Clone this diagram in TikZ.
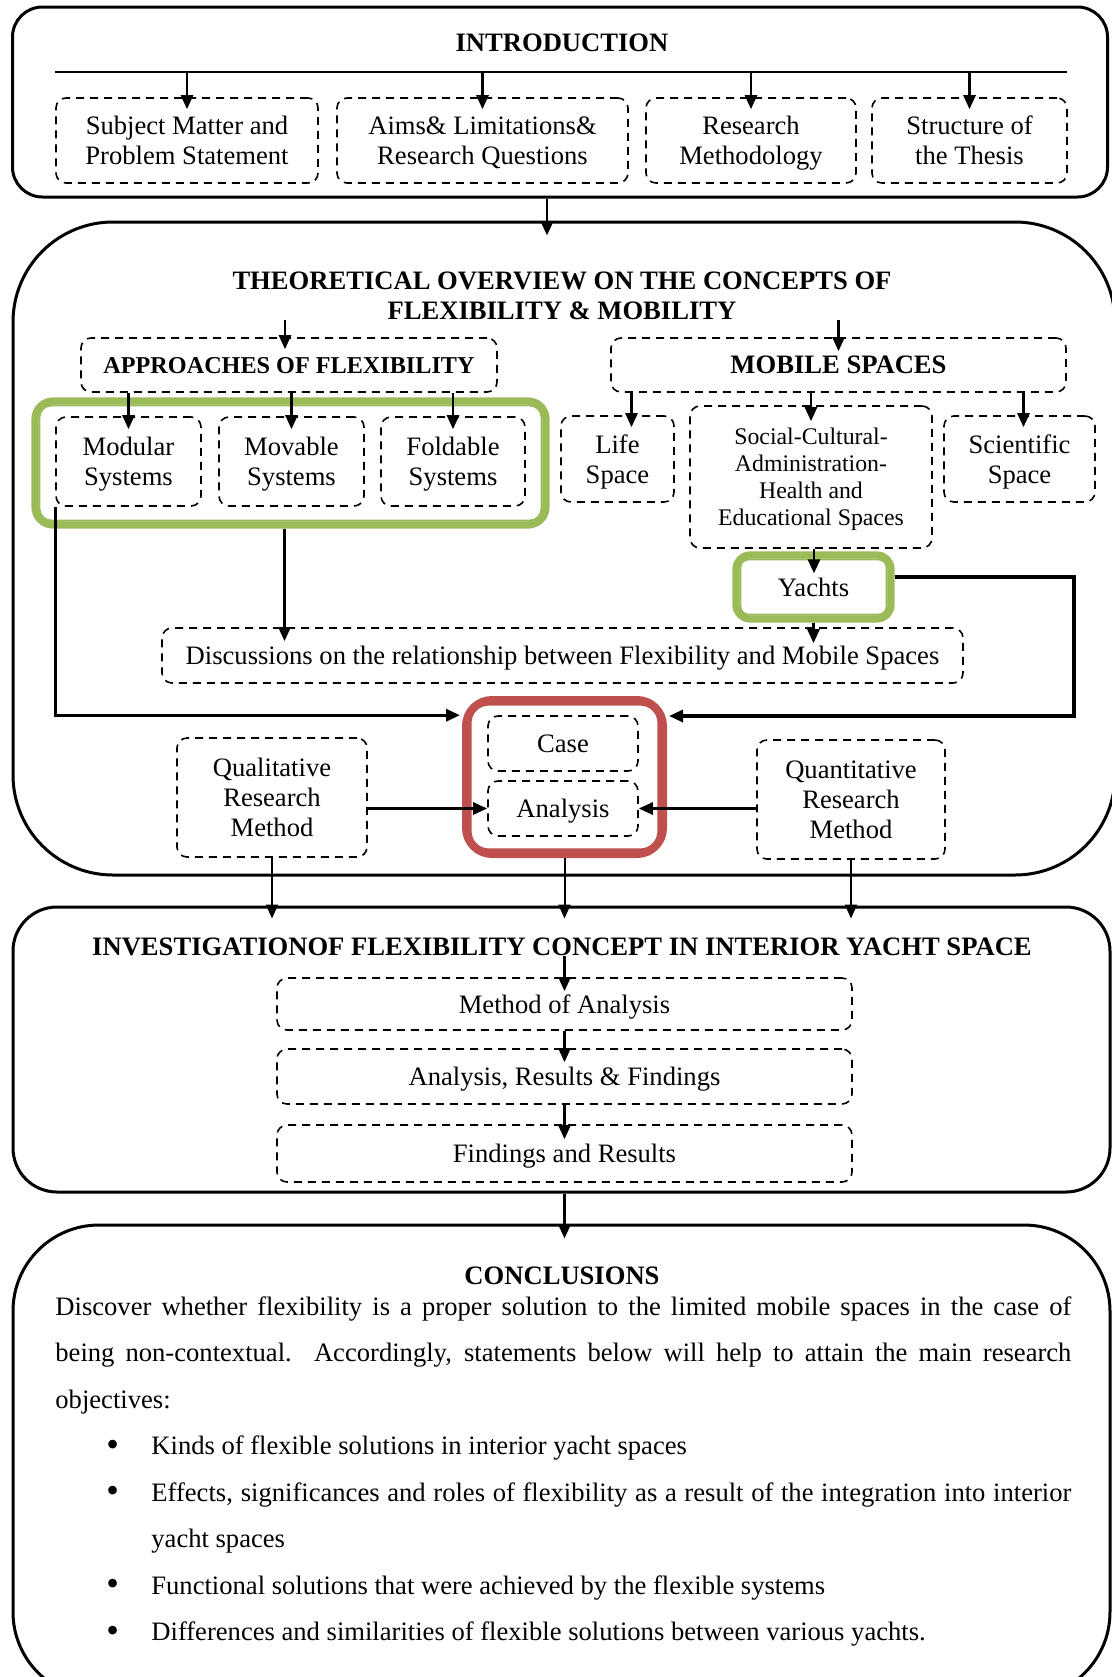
\documentclass[tikz,border=0pt]{standalone}
\usepackage{fontspec}
\setmainfont{Liberation Serif}
\usetikzlibrary{arrows.meta}
\definecolor{flexgreen}{HTML}{9BBB59}
\definecolor{caseRed}{HTML}{C0504D}
\newcommand{\concitem}[1]{\par\hangindent=48pt\hangafter=1\noindent\hspace*{25.5pt}\makebox[22.5pt][l]{\raisebox{-0.8pt}{\fontsize{18}{18}\selectfont\textbullet}}#1}
\begin{document}
\begin{tikzpicture}[x=0.5pt, y=-0.5pt, >={Triangle[length=7pt,width=6pt]},
    every node/.style={font=\fontsize{13.3}{15}\selectfont, align=center, inner sep=0pt, text depth=0pt},
    part/.style={draw, line width=1.5pt},
    ttl/.style={font=\fontsize{13.3}{15}\selectfont\bfseries},
    dbox/.style={draw, dash pattern=on 4pt off 3pt, line width=0.8pt, rounded corners=5pt},
    grnbox/.style={draw=flexgreen, line width=3.6pt, rounded corners=9pt},
    redbox/.style={draw=caseRed, line width=4pt, rounded corners=13pt},
    conn/.style={->, line width=1.3pt}]
    \useasboundingbox (0,0) rectangle (1112,1677);
    \clip (0,0) rectangle (1112,1677);

    % introduction
    \node[part, rounded corners=15pt, minimum width=547.5pt, minimum height=95pt] (intro) at (560,102) {};
    \node[ttl] (introttl) at (562,43) {INTRODUCTION};
    \draw[line width=0.6pt] (55,72) coordinate (bar) -- (1067,72);
    \node[dbox, minimum width=131pt, minimum height=42.5pt] (subj) at (187,140.5) {Subject Matter and\\Problem Statement};
    \node[dbox, minimum width=145.5pt, minimum height=42.5pt] (aims) at (482.5,140.5) {Aims\& Limitations\&\\Research Questions};
    \node[dbox, minimum width=105pt, minimum height=42.5pt] (rmeth) at (751,140.5) {Research\\Methodology};
    \node[dbox, minimum width=97.5pt, minimum height=42.5pt] (struct) at (969.5,140.5) {Structure of\\the Thesis};
    \foreach \n in {subj,aims,rmeth,struct}
        \draw[conn] (\n.north |- bar) -- ([yshift=-6pt]\n.north);

    % theoretical overview
    \node[part, rounded corners=50pt, minimum width=551pt, minimum height=326.5pt] (theory) at (564,548.5) {};
    \draw[conn] ([xshift=-6.5pt]intro.south) -- ([xshift=-6.5pt,yshift=-7.5pt]intro.south |- theory.north);
    \node[ttl] (theottl) at (562,296) {THEORETICAL OVERVIEW ON THE CONCEPTS OF\\FLEXIBILITY \& MOBILITY};
    \node[dbox, ttl, font=\fontsize{12.1}{15}\selectfont\bfseries, minimum width=208pt, minimum height=27pt] (appr) at (289,365) {APPROACHES OF FLEXIBILITY};
    \node[dbox, ttl, minimum width=227.5pt, minimum height=27pt] (mob) at (838.5,365) {MOBILE SPACES};
    \draw[conn] ([xshift=-2pt]appr.north |- theottl.south) -- ([xshift=-2pt,yshift=-6pt]appr.north);
    \draw[conn] (mob.north |- theottl.south) -- ([yshift=-7pt]mob.north);

    \node[grnbox, minimum width=255.5pt, minimum height=62pt] (flexgrp) at (290.5,463) {};
    \draw[flexgreen, line width=1pt, rounded corners=6pt] ([xshift=4pt,yshift=-4pt]flexgrp.north west) rectangle ([xshift=-4pt,yshift=4pt]flexgrp.south east);
    \node[dbox, minimum width=72.5pt, minimum height=44.5pt] (modular) at (128.5,461.5) {Modular\\Systems};
    \node[dbox, minimum width=72.5pt, minimum height=44.5pt] (movable) at (291.5,461.5) {Movable\\Systems};
    \node[dbox, minimum width=72pt, minimum height=44.5pt] (foldable) at (453,461.5) {Foldable\\Systems};
    \foreach \n in {modular,movable,foldable}
        \draw[conn] (\n.north |- appr.south) -- ([yshift=-6.5pt]\n.north);

    \node[dbox, minimum width=56.5pt, minimum height=43pt] (life) at (617.5,459) {Life\\Space};
    \node[dbox, font=\fontsize{11.9}{13.5}\selectfont, minimum width=121pt, minimum height=71pt] (social) at (811,477) {Social-Cultural-\\Administration-\\Health and\\Educational Spaces};
    \node[dbox, minimum width=75.5pt, minimum height=43pt] (sci) at (1019.5,459) {Scientific\\Space};
    \draw[conn] ([xshift=7pt]life.north |- mob.south) -- ([xshift=7pt,yshift=-6pt]life.north);
    \draw[conn] (social.north |- mob.south) -- ([yshift=-8pt]social.north);
    \draw[conn] ([xshift=2pt]sci.north |- mob.south) -- ([xshift=2pt,yshift=-6pt]sci.north);

    \node[grnbox, rounded corners=7pt, minimum width=77.5pt, minimum height=32pt] (yachts) at (813.5,587) {Yachts};
    \draw[flexgreen, line width=1pt, rounded corners=4pt] ([xshift=4pt,yshift=-4pt]yachts.north west) rectangle ([xshift=-4pt,yshift=4pt]yachts.south east);
    \draw[conn] ([xshift=1.5pt]social.south) -- ([xshift=1.5pt,yshift=-11pt]social.south |- yachts.north);

    \node[dbox, minimum width=400.5pt, minimum height=27.5pt] (disc) at (562.5,655.5) {Discussions on the relationship between Flexibility and Mobile Spaces};
    \draw[conn] ([xshift=-3pt]flexgrp.south) -- ([xshift=-3pt,yshift=-7pt]flexgrp.south |- disc.north);
    \draw[conn] (yachts.south) -- ([yshift=-8pt]yachts.south |- disc.north);

    % case analysis
    \node[redbox, minimum width=98.5pt, minimum height=77pt] (casegrp) at (564.5,777) {};
    \draw[caseRed, line width=1pt, rounded corners=9pt] ([xshift=4.3pt,yshift=-4.3pt]casegrp.north west) rectangle ([xshift=-4.3pt,yshift=4.3pt]casegrp.south east);
    \node[dbox, minimum width=75pt, minimum height=27.5pt] (case) at (563,743.5) {Case};
    \node[dbox, minimum width=75pt, minimum height=27.5pt] (analysis) at (563,808.5) {Analysis};
    \node[dbox, minimum width=95pt, minimum height=59.5pt] (qual) at (272,797.5) {Qualitative\\Research\\Method};
    \node[dbox, minimum width=94pt, minimum height=59.5pt] (quant) at (851,799.5) {Quantitative\\Research\\Method};
    \draw[conn] (qual.east |- analysis.west) -- (analysis.west);
    \draw[conn] (quant.west |- analysis.east) -- (analysis.east);
    \coordinate (rturn) at (1074,716);
    \draw[conn, line width=1.6pt] (modular.south west) -- (modular.south west |- case.north) -- ([xshift=-1pt]casegrp.west |- case.north);
    \draw[conn, line width=1.6pt] ([yshift=5pt]yachts.east) -| (rturn) -- ([xshift=1pt]casegrp.east |- rturn);

    % investigation
    \node[part, rounded corners=22pt, minimum width=548.5pt, minimum height=142.5pt] (invest) at (561.5,1049.5) {};
    \foreach \n in {qual,casegrp,quant}
        \draw[conn, line width=1pt] (\n.south) -- ([yshift=-6.5pt]\n.south |- invest.north);
    \node[ttl] (invttl) at (562,947) {INVESTIGATIONOF FLEXIBILITY CONCEPT IN INTERIOR YACHT SPACE};
    \node[dbox, minimum width=287.5pt, minimum height=26pt] (mofa) at (564.5,1004) {Method of Analysis};
    \node[dbox, minimum width=287.5pt, minimum height=27.5pt] (arf) at (564.5,1076.5) {Analysis, Results \& Findings};
    \node[dbox, minimum width=287.5pt, minimum height=28.5pt] (far) at (564.5,1153.5) {Findings and Results};
    \draw[conn] (mofa.north |- invttl.south) -- ([yshift=-7pt]mofa.north);
    \draw[conn] (mofa.south) -- ([yshift=-7pt]arf.north);
    \draw[conn] (arf.south) -- ([yshift=-7.5pt]far.north);

    % conclusions
    \node[part, rounded corners=43pt, minimum width=548.5pt, minimum height=236.5pt] (concl) at (561.5,1461.5) {};
    \draw[conn] (far.south |- invest.south) -- ([yshift=-7.5pt]far.south |- concl.north);
    \node[ttl] (conttl) at (562,1276) {CONCLUSIONS};
    \node[anchor=north west, text width=508pt, align=justify, font=\fontsize{13.3}{23.25}\selectfont] (conctext) at (55,1296) {%
        Discover whether flexibility is a proper solution to the limited mobile spaces in the case of\linebreak
        being non-contextual. Accordingly, statements below will help to attain the main research\linebreak
        objectives:
        \concitem{Kinds of flexible solutions in interior yacht spaces}
        \concitem{Effects, significances and roles of flexibility as a result of the integration into interior\linebreak yacht spaces}
        \concitem{Functional solutions that were achieved by the flexible systems}
        \concitem{Differences and similarities of flexible solutions between various yachts.}};
\end{tikzpicture}
\end{document}
